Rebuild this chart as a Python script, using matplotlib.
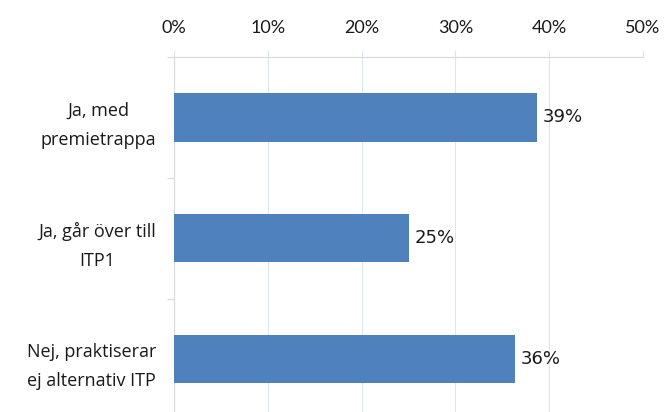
import matplotlib.pyplot as plt
import numpy as np

categories = ["Ja, med\npremietrappa", "Ja, går över till\nITP1", "Nej, praktiserar\nej alternativ ITP"]
values = [0.387, 0.251, 0.364]
value_labels = ["39%", "25%", "36%"]
x_ticks = [0, 0.1, 0.2, 0.3, 0.4, 0.5]
x_tick_labels = ["0%", "10%", "20%", "30%", "40%", "50%"]

bar_color = "#4F81BD"
grid_color = "#DCE6F2"
spine_color = "#D9D9D9"

fig = plt.figure(figsize=(6.66, 4.12), dpi=100)
ax = fig.add_axes([174/666, (412-419.5)/412, (643-174)/666, (419.5-57)/412])

y = np.arange(len(categories))
ax.barh(y, values, height=0.4, color=bar_color, zorder=3)
for yi, v, lab in zip(y, values, value_labels):
    ax.text(v + 0.006, yi, lab, va="center", ha="left", fontsize=13,
            family="DejaVu Sans", color="#1a1a1a")

ax.set_xlim(0, 0.5)
ax.set_ylim(2.5, -0.5)

ax.xaxis.tick_top()
ax.set_xticks(x_ticks)
ax.set_xticklabels(x_tick_labels, fontsize=13, family="Lato", color="#1a1a1a")
ax.tick_params(axis="x", length=5, color=grid_color, width=0.8, pad=10)
ax.grid(axis="x", color=grid_color, linewidth=0.8, zorder=0)

ax.set_yticks(y)
ax.set_yticklabels(categories, fontsize=13, family="Open Sans", color="#1a1a1a",
                   multialignment="center", linespacing=1.8)
ax.set_yticks([-0.5, 0.5, 1.5, 2.5], minor=True)
ax.tick_params(axis="y", which="major", length=0, pad=13)
ax.tick_params(axis="y", which="minor", length=5, color=spine_color, width=0.8)

for side in ["right", "bottom"]:
    ax.spines[side].set_visible(False)
for side in ["top", "left"]:
    ax.spines[side].set_color(spine_color)
    ax.spines[side].set_linewidth(0.8)

fig.savefig("out.png", dpi=100)
